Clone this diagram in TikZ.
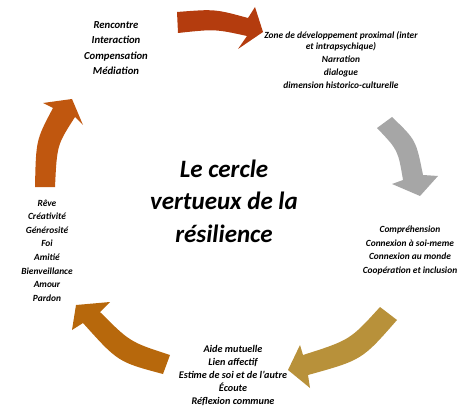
\documentclass[tikz,border=0pt]{standalone}
\usepackage{fontspec}
\setmainfont{Carlito}

\definecolor{rouille}{HTML}{B43C0E}
\definecolor{gris}{HTML}{A6A6A6}
\definecolor{orange}{HTML}{C0570F}
\definecolor{brun}{HTML}{B7680C}
\definecolor{or}{HTML}{B8913A}

\begin{document}
\begin{tikzpicture}[x=1pt, y=-1pt,
    liste/.style={align=center, inner sep=0pt, font=\bfseries\itshape\fontsize{9.4}{13.6}\selectfont},
    titre/.style={align=center, inner sep=0pt, font=\bfseries\itshape\fontsize{25}{32.5}\selectfont}]

   \useasboundingbox (0,0) rectangle (474,409);

   % 上方箭头
   \fill[rouille] (177,12) .. controls (215,9) .. (248,18) -- (255,7) -- (263,32)
       -- (238,49) -- (247,36) .. controls (215,29) .. (178,33) -- cycle;

   % 右侧箭头 (灰色)
   \fill[gris] (392,117) .. controls (416,140) .. (423,175) -- (438,176) -- (420,196)
       -- (392,184) -- (403,180) .. controls (398,150) .. (377,128) -- cycle;

   % 右下箭头
   \fill[or] (397,320) .. controls (362,360) .. (308,375) -- (310,388) -- (288,370)
       -- (300,345) -- (303,355) .. controls (350,340) .. (380,307) -- cycle;

   % 左下箭头
   \fill[brun] (170,355) .. controls (130,342) .. (100,312) -- (110,302) -- (76,305)
       -- (72,330) -- (83,323) .. controls (118,362) .. (163,374) -- cycle;

   % 左侧箭头
   \fill[orange] (35,187) .. controls (36,140) .. (53,108) -- (43,103) -- (72,99)
       -- (83,125) -- (75,117) .. controls (57,145) .. (55,187) -- cycle;

   % 中间标题
   \node[titre] (titre) at (224,201) {Le cercle\\vertueux de la\\résilience};

   % 各组文字
   \node[liste, font=\bfseries\itshape\fontsize{10.7}{15.3}\selectfont] (rencontre) at (116,48)
       {Rencontre\\Interaction\\Compensation\\Médiation};
   \node[liste, font=\bfseries\itshape\fontsize{9.4}{10.7}\selectfont] (zone) at (341,60)
       {Zone de développement proximal (inter\\et intrapsychique)\\[2.4pt]Narration\\[2.4pt]dialogue\\[2.4pt]dimension historico-culturelle};
   \node[liste] (comprehension) at (410,250.5)
       {Compréhension\\Connexion à soi-meme\\Connexion au monde\\Coopération et inclusion};
   \node[liste, font=\bfseries\itshape\fontsize{10.2}{13.2}\selectfont] (aide) at (233,375.5)
       {Aide mutuelle\\Lien affectif\\Estime de soi et de l'autre\\Écoute\\Réflexion commune};
   \node[liste] (reve) at (47,250.5)
       {Rêve\\Créativité\\Générosité\\Foi\\Amitié\\Bienveillance\\Amour\\Pardon};
\end{tikzpicture}
\end{document}
